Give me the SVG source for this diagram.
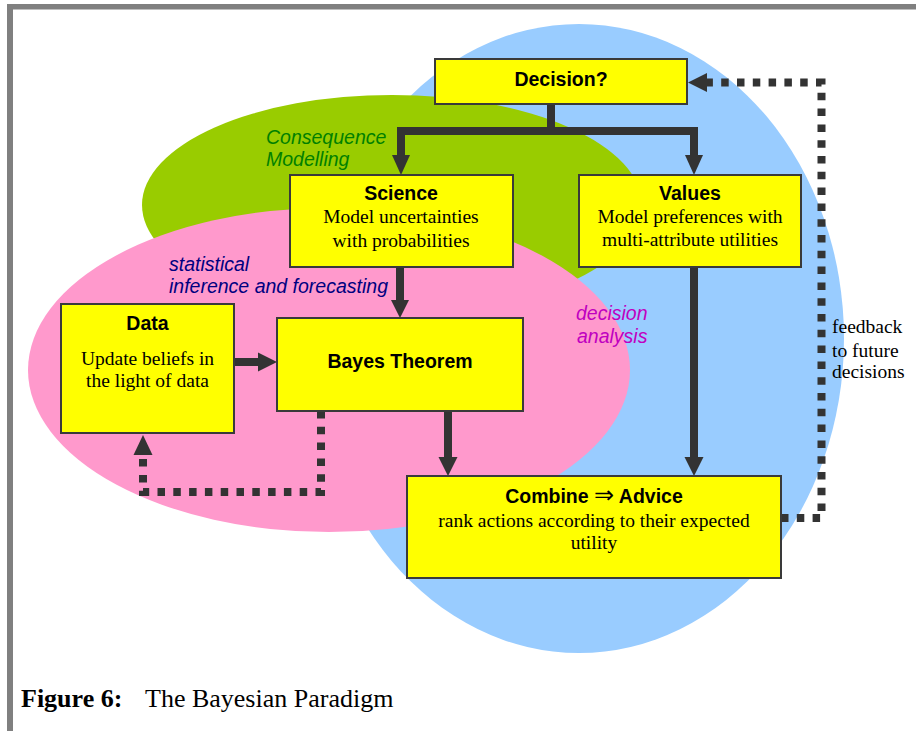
<svg xmlns="http://www.w3.org/2000/svg" width="916" height="731" viewBox="0 0 916 731">
  <style>
    .box { fill: #FFFF00; stroke: #3a3a3a; stroke-width: 2; }
    .hd { font-family: "Liberation Sans", Arial, sans-serif; font-weight: bold; font-size: 19.5px; fill: #000; text-anchor: middle; }
    .tx { font-family: "Liberation Serif", "Times New Roman", serif; font-size: 19.5px; fill: #000; text-anchor: middle; }
    .zone { font-family: "Liberation Sans", Arial, sans-serif; font-style: italic; font-size: 19.5px; }
    .line { fill: none; stroke: #333333; stroke-width: 8; stroke-linejoin: miter; stroke-linecap: butt; }
    .dots { fill: none; stroke: #333333; stroke-width: 8; stroke-dasharray: 7.5 8.3; stroke-linejoin: miter; }
    .head { fill: #333333; }
  </style>

  <rect width="916" height="731" fill="#FFFFFF"/>

  <!-- page frame -->
  <rect x="7" y="4" width="909" height="5.5" fill="#808080"/>
  <rect x="7" y="4" width="6" height="727" fill="#808080"/>

  <!-- overlapping areas -->
  <g id="areas">
    <ellipse cx="579" cy="338.5" rx="265" ry="314.5" fill="#99CCFF"/>
    <ellipse cx="392" cy="205" rx="250" ry="110" fill="#99CC00"/>
    <ellipse cx="329" cy="370" rx="301" ry="162" fill="#FF99CC"/>
  </g>

  <!-- area labels -->
  <g id="labels">
    <text class="zone" fill="#008000" x="266" y="144">Consequence</text>
    <text class="zone" fill="#008000" x="266" y="166">Modelling</text>
    <text class="zone" fill="#000080" x="169" y="271">statistical</text>
    <text class="zone" fill="#000080" x="169" y="293">inference and forecasting</text>
    <text class="zone" fill="#C000C0" x="576" y="320">decision</text>
    <text class="zone" fill="#C000C0" x="577" y="343">analysis</text>
  </g>

  <!-- connectors -->
  <g id="connectors">
    <path class="line" d="M551,104 V131 H401 V156"/>
    <polygon class="head" points="392,155 410,155 401,175"/>
    <path class="line" d="M551,131 H694 V156"/>
    <polygon class="head" points="685,155 703,155 694,175"/>

    <path class="line" d="M400,267 V301"/>
    <polygon class="head" points="391,300 409,300 400,318"/>

    <path class="line" d="M234,362 H259"/>
    <polygon class="head" points="258,352.5 258,371.5 277,362"/>

    <path class="line" d="M448,411 V458"/>
    <polygon class="head" points="438.5,457 457.5,457 448,476"/>

    <path class="line" d="M694,267 V458"/>
    <polygon class="head" points="684.5,457 703.5,457 694,476"/>

    <path class="dots" d="M321,411 V492 H143 V455"/>
    <polygon class="head" points="133.5,455 152.5,455 143,435"/>

    <path class="dots" d="M781,518 H821.5 V82.5 H707"/>
    <polygon class="head" points="707,73 707,92 688,82.5"/>
  </g>

  <g id="decision">
    <rect class="box" x="435" y="59" width="252" height="45"/>
    <text class="hd" x="561" y="86">Decision?</text>
  </g>

  <g id="science">
    <rect class="box" x="290" y="175" width="223" height="92"/>
    <text class="hd" x="401" y="200">Science</text>
    <text class="tx" x="401" y="223">Model uncertainties</text>
    <text class="tx" x="401" y="247">with probabilities</text>
  </g>

  <g id="values">
    <rect class="box" x="579" y="175" width="222" height="92"/>
    <text class="hd" x="690" y="200">Values</text>
    <text class="tx" x="690" y="223">Model preferences with</text>
    <text class="tx" x="690" y="246">multi-attribute utilities</text>
  </g>

  <g id="data">
    <rect class="box" x="61" y="304" width="173" height="129"/>
    <text class="hd" x="147.5" y="330">Data</text>
    <text class="tx" x="147.5" y="365">Update beliefs in</text>
    <text class="tx" x="147.5" y="387">the light of data</text>
  </g>

  <g id="bayes">
    <rect class="box" x="277" y="318" width="246" height="93"/>
    <text class="hd" x="400" y="368">Bayes Theorem</text>
  </g>

  <g id="combine">
    <rect class="box" x="407" y="476" width="374" height="102"/>
    <text class="hd" x="594" y="503">Combine <tspan font-family="'DejaVu Sans', sans-serif" font-weight="normal" font-size="24">⇒</tspan> Advice</text>
    <text class="tx" x="594" y="527">rank actions according to their expected</text>
    <text class="tx" x="594" y="549">utility</text>
  </g>

  <g id="feedback-label">
    <text class="tx" style="text-anchor:start" x="832" y="333">feedback</text>
    <text class="tx" style="text-anchor:start" x="832" y="357">to future</text>
    <text class="tx" style="text-anchor:start" x="832" y="378">decisions</text>
  </g>

  <!-- caption -->
  <text font-family="'Liberation Serif', 'Times New Roman', serif" font-size="26" fill="#000" y="707"><tspan x="21" font-weight="bold">Figure 6:</tspan><tspan x="145">The Bayesian Paradigm</tspan></text>
</svg>
